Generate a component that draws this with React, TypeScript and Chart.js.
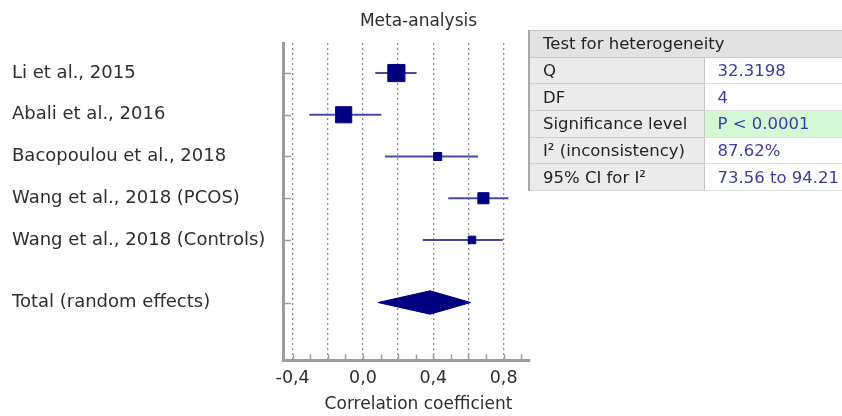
import React, { useEffect, useRef } from 'react';
import { Chart, registerables } from 'chart.js';

Chart.register(...registerables);

// ---- Data ----
const studies = [
  'Li et al., 2015',
  'Abali et al., 2016',
  'Bacopoulou et al., 2018',
  'Wang et al., 2018 (PCOS)',
  'Wang et al., 2018 (Controls)',
];
const estimates = [0.19, -0.11, 0.425, 0.685, 0.62];
const ciLower = [0.07, -0.305, 0.125, 0.485, 0.34];
const ciUpper = [0.305, 0.105, 0.655, 0.827, 0.795];
const weights = [28.6, 26.9, 13.4, 18.5, 12.6];

const totalLabel = 'Total (random effects)';
const totalEstimate = 0.382;
const totalLower = 0.085;
const totalUpper = 0.613;

const xGridValues = [-0.4, -0.2, 0, 0.2, 0.4, 0.6, 0.8];
const xTickLabels = ['-0,4', '', '0,0', '', '0,4', '', '0,8'];
const xMinorTickValues = [-0.4, -0.3, -0.2, -0.1, 0, 0.1, 0.2, 0.3, 0.4, 0.5, 0.6, 0.7, 0.8, 0.9];

const chartTitle = 'Meta-analysis';
const xAxisTitle = 'Correlation coefficient';

const heteroTitle = 'Test for heterogeneity';
const heteroLabels = ['Q', 'DF', 'Significance level', 'I² (inconsistency)', '95% CI for I²'];
const heteroValues = ['32.3198', '4', 'P < 0.0001', '87.62%', '73.56 to 94.21'];

// ---- Styles ----
const FONT = '"DejaVu Sans", sans-serif';
const NAVY = '#000080';
const CI_COLOR = '#4848a8';
const TEXT = '#2e2e2e';
const AXIS = '#9c9c9c';

export default function App() {
  const ref = useRef<HTMLCanvasElement | null>(null);

  useEffect(() => {
    if (!ref.current) return;
    const totalRow = studies.length + 0.5;
    const rowValues = [...studies.map((_, i) => i), totalRow];
    const rowLabels = [...studies, totalLabel];
    const diamondHalf = 0.28;

    const ciSets = studies.map((_, i) => ({
      data: [
        { x: ciLower[i], y: i },
        { x: ciUpper[i], y: i },
      ],
      showLine: true,
      borderColor: CI_COLOR,
      borderWidth: 2,
      pointRadius: 0,
      fill: false,
      order: 2,
    }));

    const squares = {
      data: estimates.map((e, i) => ({ x: e, y: i })),
      pointStyle: 'rect',
      pointRadius: weights.map((w) => (w * 0.6) / Math.SQRT2),
      backgroundColor: NAVY,
      borderColor: NAVY,
      borderWidth: 1,
      order: 0,
    };

    const diamond = {
      data: [
        { x: totalLower, y: totalRow },
        { x: totalEstimate, y: totalRow - diamondHalf },
        { x: totalUpper, y: totalRow },
        { x: totalEstimate, y: totalRow + diamondHalf },
        { x: totalLower, y: totalRow },
      ],
      showLine: true,
      borderColor: NAVY,
      backgroundColor: NAVY,
      borderWidth: 1,
      pointRadius: 0,
      fill: 'shape',
      tension: 0,
      order: 1,
    };

    const decor = {
      id: 'decor',
      afterDraw(chart: any) {
        const { ctx, chartArea, scales } = chart;
        const xs = scales.x;
        const ys = scales.y;
        ctx.save();
        ctx.strokeStyle = AXIS;
        ctx.lineWidth = 1.5;
        ctx.beginPath();
        for (const v of xMinorTickValues) {
          const px = Math.round(xs.getPixelForValue(v)) + 0.5;
          ctx.moveTo(px, chartArea.bottom);
          ctx.lineTo(px, chartArea.bottom - 6);
        }
        for (const v of rowValues) {
          const py = Math.round(ys.getPixelForValue(v)) + 0.5;
          ctx.moveTo(chartArea.left, py);
          ctx.lineTo(chartArea.left + 8, py);
        }
        ctx.stroke();
        ctx.fillStyle = TEXT;
        ctx.textAlign = 'center';
        ctx.textBaseline = 'middle';
        ctx.font = '17px ' + FONT;
        const cx = (chartArea.left + chartArea.right) / 2 + 12;
        ctx.fillText(chartTitle, cx, 22);
        ctx.fillText(xAxisTitle, cx, 405);
        ctx.restore();
      },
    };

    const chart = new Chart(ref.current, {
      type: 'scatter',
      data: { datasets: [...ciSets, diamond, squares] as any },
      options: {
        animation: false,
        responsive: false,
        devicePixelRatio: 1,
        events: [],
        layout: { padding: { left: 12, right: 312, top: 43, bottom: 0 } },
        plugins: {
          legend: { display: false },
          tooltip: { enabled: false },
          title: { display: false },
        },
        scales: {
          x: {
            type: 'linear',
            min: -0.455,
            max: 0.95,
            afterBuildTicks: (s: any) => {
              s.ticks = xGridValues.map((v) => ({ value: v }));
            },
            afterFit: (s: any) => {
              s.height = 55.5;
            },
            ticks: {
              autoSkip: false,
              maxRotation: 0,
              padding: 7,
              color: TEXT,
              font: { family: FONT, size: 17.5 },
              callback: (v: any) => {
                const idx = xGridValues.findIndex((g) => Math.abs(g - Number(v)) < 1e-9);
                return idx >= 0 ? xTickLabels[idx] : '';
              },
            },
            grid: {
              display: true,
              drawTicks: false,
              color: '#8e8e8e',
              lineWidth: 1.3,
            },
            border: { display: true, color: AXIS, width: 3, dash: [2, 3] },
          },
          y: {
            type: 'linear',
            reverse: true,
            min: -0.72,
            max: 6.89,
            afterBuildTicks: (s: any) => {
              s.ticks = rowValues.map((v) => ({ value: v }));
            },
            afterFit: (s: any) => {
              s.width = 271;
            },
            ticks: {
              autoSkip: false,
              crossAlign: 'far',
              color: TEXT,
              font: { family: FONT, size: 18 },
              callback: (v: any) => {
                const idx = rowValues.findIndex((r) => Math.abs(r - Number(v)) < 1e-9);
                return idx >= 0 ? rowLabels[idx] : '';
              },
            },
            grid: { display: false, drawTicks: false },
            border: { display: true, color: AXIS, width: 3 },
          },
        },
      } as any,
      plugins: [decor],
    });
    return () => chart.destroy();
  }, []);

  const rowH = 26.7;
  const cellBase: React.CSSProperties = {
    height: rowH,
    boxSizing: 'border-box',
    padding: '0 0 0 13px',
    whiteSpace: 'nowrap',
    verticalAlign: 'middle',
    fontFamily: FONT,
    fontSize: 16.5,
  };

  return (
    <div
      style={{
        position: 'absolute',
        left: 0,
        top: 0,
        width: 842,
        height: 416,
        overflow: 'hidden',
        background: '#ffffff',
      }}
    >
      <canvas ref={ref} width={842} height={416} style={{ display: 'block', width: 842, height: 416 }} />
      <div
        style={{
          position: 'absolute',
          left: 528,
          top: 30,
          width: 330,
          overflow: 'hidden',
        }}
      >
        <table
          style={{
            borderCollapse: 'collapse',
            width: 330,
            tableLayout: 'fixed',
            borderLeft: '2px solid #a8a8a8',
            borderTop: '1px solid #c4c4c4',
            borderBottom: '1px solid #c4c4c4',
          }}
        >
          <colgroup>
            <col style={{ width: 175 }} />
            <col style={{ width: 155 }} />
          </colgroup>
          <tbody>
            <tr>
              <td
                colSpan={2}
                style={{ ...cellBase, background: '#e2e2e2', color: '#222', borderBottom: '1px solid #c8c8c8' }}
              >
                {heteroTitle}
              </td>
            </tr>
            {heteroLabels.map((lab, i) => (
              <tr key={lab}>
                <td
                  style={{
                    ...cellBase,
                    background: '#ebebeb',
                    color: '#222',
                    borderBottom: '1px solid #d2d2d2',
                    borderRight: '1px solid #c4c4c4',
                  }}
                >
                  {lab}
                </td>
                <td
                  style={{
                    ...cellBase,
                    background: heteroValues[i].startsWith('P <') ? '#d3f8d3' : '#ffffff',
                    color: '#3c3ca6',
                    borderBottom: '1px solid #e0e0e0',
                  }}
                >
                  {heteroValues[i]}
                </td>
              </tr>
            ))}
          </tbody>
        </table>
      </div>
    </div>
  );
}
